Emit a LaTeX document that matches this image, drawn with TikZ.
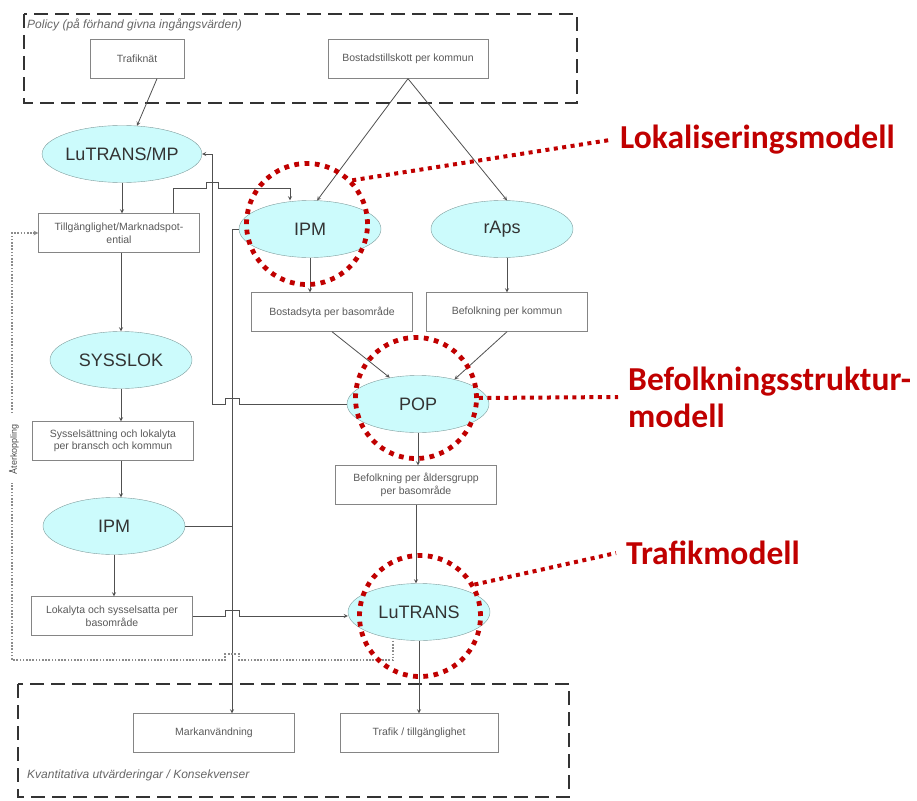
\documentclass[tikz,border=0pt]{standalone}
\usepackage{fontspec}
\setmainfont{Liberation Sans}
\newfontfamily\calib{Carlito}
\usetikzlibrary{shapes.geometric,calc}
\definecolor{ellfill}{HTML}{CCFBFC}
\definecolor{ellline}{HTML}{7F9C9C}
\definecolor{boxline}{HTML}{858585}
\definecolor{boxtext}{HTML}{5A5A5A}
\definecolor{wire}{HTML}{505050}
\definecolor{hlred}{HTML}{C00000}

\begin{document}
\begin{tikzpicture}[x=1pt, y=-1pt, >=stealth,
    model/.style={ellipse, draw=ellline, fill=ellfill, minimum width=142pt, minimum height=57pt, inner sep=0pt, text=black!80, font=\fontsize{18}{20}\selectfont},
    databox/.style={draw=boxline, fill=white, minimum width=161pt, minimum height=39pt, inner sep=1pt, align=center, text=boxtext, font=\fontsize{10.5}{12.5}\selectfont},
    dashframe/.style={draw=black!80, line width=2.5pt, dash pattern=on 14pt off 7pt},
    note/.style={text=black!60, font=\fontsize{12}{14}\selectfont\itshape, anchor=west, inner sep=1pt},
    line/.style={draw=wire, line width=0.8pt},
    link/.style={line, ->},
    fb/.style={draw=black!45, line width=1.1pt, dash pattern=on 1.6pt off 1.6pt},
    hl/.style={circle, draw=hlred, line width=4.8pt, dash pattern=on 4.8pt off 5.5pt, minimum size=121pt},
    lead/.style={draw=hlred, line width=4pt, dash pattern=on 4pt off 4.5pt},
    big/.style={text=hlred, font=\calib\bfseries\fontsize{33.5}{37}\selectfont, anchor=west, align=left, inner xsep=10pt, inner ysep=2pt}
]
\useasboundingbox (0,0) rectangle (917,800);

% ingangsvarden
\draw[dashframe] (24,14) rectangle (577,103);
\node[note] (policy) at (26,25) {Policy (på förhand givna ingångsvärden)};
\node[databox, minimum width=94pt] (trafiknat) at (137,59) {Trafiknät};
\node[databox, minimum width=160pt] (bostad) at (408,59) {Bostadstillskott per kommun};

% vanster kolumn
\node[model] (lutransmp) at (122,154) {LuTRANS/MP};
\node[databox] (tillg) at (119,233) {Tillgänglighet/Marknadspot-\\ential};
\node[model] (sysslok) at (121,360) {SYSSLOK};
\node[databox] (syssbox) at (113,441) {Sysselsättning och lokalyta\\per bransch och kommun};
\node[model] (ipmlow) at (114,526) {IPM};
\node[databox] (lokalyta) at (112,616) {Lokalyta och sysselsatta per\\basområde};

% hoger kolumn
\node[model] (ipmtop) at (310,229) {IPM};
\node[model] (raps) at (502,229) {rAps};
\node[databox] (bostadsyta) at (332,312) {Bostadsyta per basområde};
\node[databox] (befkommun) at (507,312) {Befolkning per kommun};
\node[model] (pop) at (418,404) {POP};
\node[databox] (befalder) at (416,485) {Befolkning per åldersgrupp\\per basområde};
\node[model] (lutrans) at (419,612) {LuTRANS};

% utvarderingar
\draw[dashframe] (18,684) rectangle (569,797);
\node[databox] (markanv) at (214,733) {Markanvändning};
\node[databox, minimum width=158pt] (trafikbox) at (419,733) {Trafik / tillgänglighet};
\node[note] (kvant) at (26,775) {Kvantitativa utvärderingar / Konsekvenser};

% hjalppunkter
\coordinate (busA) at (212,0);
\coordinate (busB) at (232,0);
\coordinate (route) at (0,188);
\coordinate (fbx) at (12,0);
\coordinate (fby) at (0,660);
\coordinate (ipmin) at ([xshift=-20pt]ipmtop.north);
\coordinate (tillgut) at ([xshift=54pt]tillg.north);
\coordinate (fbstart) at ([xshift=-26pt]lutrans.south);

\draw[link] ([xshift=20pt]trafiknat.south) -- (lutransmp.62);
\draw[link] (bostad.south) -- (ipmtop.76);
\draw[link] (bostad.south) -- (raps.80);
\draw[link] (lutransmp.south) -- (lutransmp.south |- tillg.north);
\draw[link] (sysslok.north |- tillg.south) -- (sysslok.north);
\draw[link] (sysslok.south) -- (sysslok.south |- syssbox.north);
\draw[link] (sysslok.south |- syssbox.south) -- (sysslok.south |- ipmlow.north);
\draw[link] (ipmlow.south) -- (ipmlow.south |- lokalyta.north);
\draw[link] (ipmtop.south) -- (ipmtop.south |- bostadsyta.north);
\draw[link] (befkommun.north |- raps.south) -- (befkommun.north);
\draw[link] (bostadsyta.south) -- (pop.137);
\draw[link] (befkommun.south) -- (pop.34);
\draw[link] (pop.south) -- (pop.south |- befalder.north);
\draw[link] (befalder.south) -- (befalder.south |- lutrans.north);
\draw[link] (lutrans.south) -- (lutrans.south |- trafikbox.north);

% korsande ledningar
\draw[link] (tillgut) -- (tillgut |- route) -- ($(busA |- route)+(-6,0)$) -- ++(0,-6) -- ++(12,0) -- ++(0,6) -- (ipmin |- route) -- (ipmin);
\draw[link] (pop.west) -- ($(busB |- pop.west)+(7,0)$) -- ++(0,-6) -- ++(-14,0) -- ++(0,6) -- (busA |- pop.west) -- (busA |- lutransmp.east) -- (lutransmp.east);
\draw[link] (ipmtop.west) -- (busB |- ipmtop.west) -- (busB |- markanv.north);
\draw[line] (ipmlow.east) -- (busB |- ipmlow.east);
\draw[link] (lokalyta.east) -- ($(busB |- lokalyta.east)+(-7,0)$) -- ++(0,-6) -- ++(14,0) -- ++(0,6) -- (lutrans.west |- lokalyta.east);

% aterkoppling
\draw[fb, ->] (fbstart) -- (fbstart |- fby) -- ($(busB |- fby)+(7,0)$) -- ++(0,-6) -- ++(-14,0) -- ++(0,6) -- (fbx |- fby) -- (fbx |- tillg.west) -- (tillg.west);
\node[rotate=90, fill=white, inner xsep=9pt, inner ysep=1pt, text=black!70, font=\fontsize{9}{10}\selectfont] (aterk) at (14,449) {Återkoppling};

% markeringar
\node[hl] (hlipm) at (307,224) {};
\node[hl] (hlpop) at (416,398) {};
\node[hl] (hltraf) at (420,616) {};
\node[big] (lokal) at (610,140) {Lokaliseringsmodell};
\node[big] (befstr) at (618,397) {Befolkningsstruktur-\\modell};
\node[big] (trafmod) at (616,553) {Trafikmodell};
\draw[lead] (hlipm.44) -- (lokal.west);
\draw[lead] (hlpop.east) -- (befstr.west);
\draw[lead] (hltraf.30) -- (trafmod.west);
\end{tikzpicture}
\end{document}
